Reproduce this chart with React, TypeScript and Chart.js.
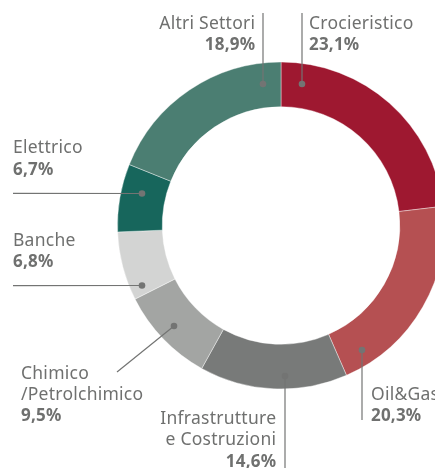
import React, { useEffect, useRef } from "react";
import { Chart, registerables } from "chart.js";

Chart.register(...registerables);

const categories = [
  "Crocieristico",
  "Oil&Gas",
  "Infrastrutture e Costruzioni",
  "Chimico /Petrolchimico",
  "Banche",
  "Elettrico",
  "Altri Settori",
];
const shares = [23.1, 20.3, 14.6, 9.5, 6.8, 6.7, 18.9];
const pctLabels = ["23,1%", "20,3%", "14,6%", "9,5%", "6,8%", "6,7%", "18,9%"];
const nameLines = [
  ["Crocieristico"],
  ["Oil&Gas"],
  ["Infrastrutture", "e Costruzioni"],
  ["Chimico", "/Petrolchimico"],
  ["Banche"],
  ["Elettrico"],
  ["Altri Settori"],
];
const colors = ["#9e1830", "#b55052", "#787a79", "#a3a5a3", "#d3d4d3", "#17665c", "#4b7e72"];

// layout for callouts: dot offset from center, line end, text anchor
type Callout = {
  dot: [number, number];
  lineEnd: [number, number];
  tx: number;
  ty: number; // first baseline
  align: CanvasTextAlign;
};
const callouts: Callout[] = [
  { dot: [21, -141.5], lineEnd: [302, 13], tx: 309, ty: 28.5, align: "left" },
  { dot: [81, 124.5], lineEnd: [362, 420], tx: 371, ty: 400, align: "left" },
  { dot: [4, 150.5], lineEnd: [285, 470], tx: 276, ty: 424, align: "right" },
  { dot: [-107, 100.5], lineEnd: [117, 372], tx: 21, ty: 378.5, align: "left" },
  { dot: [-139, 60], lineEnd: [13, 285.7], tx: 13, ty: 246, align: "left" },
  { dot: [-139, -32], lineEnd: [13, 193.3], tx: 13, ty: 153.3, align: "left" },
  { dot: [-18, -141.5], lineEnd: [263, 13], tx: 255, ty: 28.5, align: "right" },
];

const FONT = "'Noto Sans', sans-serif";
const TEXT_COLOR = "#6f706f";
const LINE_COLOR = "#737473";
const LINE_H = 21.3;

const calloutPlugin = {
  id: "callouts",
  afterDraw(chart: any) {
    const ctx = chart.ctx as any;
    const arc = chart.getDatasetMeta(0).data[0];
    const cx = arc.x;
    const cy = arc.y;
    ctx.save();
    callouts.forEach((c, i) => {
      const dx = cx + c.dot[0];
      const dy = cy + c.dot[1];
      ctx.strokeStyle = LINE_COLOR;
      ctx.lineWidth = 1.2;
      ctx.beginPath();
      ctx.moveTo(dx, dy);
      ctx.lineTo(c.lineEnd[0], c.lineEnd[1]);
      ctx.stroke();
      ctx.fillStyle = LINE_COLOR;
      ctx.beginPath();
      ctx.arc(dx, dy, 3.3, 0, Math.PI * 2);
      ctx.fill();

      ctx.textAlign = c.align;
      ctx.textBaseline = "alphabetic";
      ctx.fillStyle = TEXT_COLOR;
      let y = c.ty;
      ctx.font = `400 17.5px ${FONT}`;
      ctx.letterSpacing = "0.25px";
      const shift = c.align === "right" ? 0.25 : 0;
      nameLines[i].forEach((ln) => {
        ctx.fillText(ln, c.tx + shift, y);
        y += LINE_H;
      });
      ctx.letterSpacing = "0.2px";
      ctx.font = `700 17px ${FONT}`;
      ctx.fillText(pctLabels[i], c.tx + (c.align === "right" ? 0.2 : 0), y);
      ctx.letterSpacing = "0px";
    });
    ctx.restore();
  },
};

export default function App() {
  const ref = useRef<HTMLCanvasElement>(null);
  useEffect(() => {
    if (!ref.current) return;
    const chart = new Chart(ref.current, {
      type: "doughnut",
      data: {
        labels: categories,
        datasets: [
          {
            data: shares,
            backgroundColor: colors,
            borderColor: "rgba(255,255,255,0.5)",
            borderWidth: 0.8,
            hoverOffset: 0,
          },
        ],
      },
      options: {
        responsive: false,
        animation: false,
        devicePixelRatio: 1,
        radius: 163.5,
        cutout: 118.5,
        layout: { padding: { left: 117.5, right: 15.5, top: 62, bottom: 79 } },
        plugins: { legend: { display: false }, tooltip: { enabled: false } },
      } as any,
      plugins: [calloutPlugin],
    });
    return () => chart.destroy();
  }, []);
  return (
    <div
      style={{
        position: "fixed",
        left: 0,
        top: 0,
        width: 435,
        height: 468,
        overflow: "hidden",
        background: "#fff",
      }}
    >
      <canvas ref={ref} width={460} height={468} style={{ display: "block" }} />
    </div>
  );
}
